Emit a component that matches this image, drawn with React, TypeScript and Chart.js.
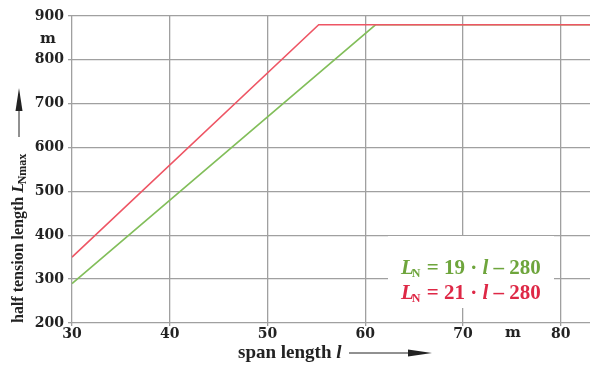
import React, { useEffect, useRef } from "react";
import { Chart, registerables } from "chart.js";
Chart.register(...registerables);

const redSpan = [30, 55.24, 83];
const redLength = [350, 880, 880];
const greenSpan = [30, 61.05, 83];
const greenLength = [290, 880, 880];
const xTickValues = [30, 40, 50, 60, 70, 80];
const yTickValues = [200, 300, 400, 500, 600, 700, 800, 900];
const greenFormula = ["19", "280"];
const redFormula = ["21", "280"];
const yTitle = "half tension length ";
const xTitle = "span length ";
const unit = "m";

const FONT = "'Liberation Serif', 'DejaVu Serif', serif";
const WIDE = "'DejaVu Serif', 'Liberation Serif', serif";
const RED_LINE = "rgb(238,85,100)";
const GREEN_LINE = "rgb(130,190,90)";
const RED_TEXT = "rgb(222,40,70)";
const GREEN_TEXT = "rgb(110,165,60)";
const TEXT = "#222";
const GRID = "rgb(160,160,160)";

function drawFormula(ctx: CanvasRenderingContext2D, x: number, y: number, parts: string[], color: string) {
  ctx.save();
  ctx.fillStyle = color;
  ctx.textBaseline = "middle";
  ctx.textAlign = "left";
  let cx = x;
  ctx.font = `italic bold 21px ${FONT}`;
  ctx.fillText("L", cx, y);
  cx += ctx.measureText("L").width;
  ctx.font = `bold 12px ${FONT}`;
  ctx.fillText("N", cx - 2, y + 5);
  cx += ctx.measureText("N").width - 1;
  ctx.font = `bold 21px ${FONT}`;
  const s1 = ` = ${parts[0]} · `;
  ctx.fillText(s1, cx, y);
  cx += ctx.measureText(s1).width;
  ctx.font = `italic bold 21px ${FONT}`;
  ctx.fillText("l", cx, y);
  cx += ctx.measureText("l").width;
  ctx.font = `bold 21px ${FONT}`;
  ctx.fillText(` – ${parts[1]}`, cx, y);
  ctx.restore();
}

const decorPlugin = {
  id: "decor",
  beforeDatasetsDraw(chart: any) {
    const { ctx } = chart;
    ctx.save();
    ctx.fillStyle = "#fff";
    ctx.fillRect(388, 236, 166, 72);
    ctx.restore();
  },
  afterDraw(chart: any) {
    const { ctx } = chart;
    const xs = chart.scales.x;
    const ys = chart.scales.y;
    drawFormula(ctx, 401, 269, greenFormula, GREEN_TEXT);
    drawFormula(ctx, 401, 294, redFormula, RED_TEXT);

    ctx.save();
    ctx.fillStyle = TEXT;
    ctx.textBaseline = "middle";
    ctx.textAlign = "center";
    ctx.font = `bold 15px ${WIDE}`;
    ctx.fillText(unit, 48, (ys.getPixelForValue(900) + ys.getPixelForValue(800)) / 2 + 1);
    ctx.fillText(unit, (xs.getPixelForValue(70) + xs.getPixelForValue(80)) / 2 + 1, 333);

    // x title
    ctx.textAlign = "left";
    ctx.font = `bold 19px ${FONT}`;
    let cx = 238;
    const ty = 353;
    ctx.fillText(xTitle, cx, ty);
    cx += ctx.measureText(xTitle).width;
    ctx.font = `italic bold 19px ${FONT}`;
    ctx.fillText("l", cx, ty);
    ctx.strokeStyle = TEXT;
    ctx.lineWidth = 1;
    ctx.beginPath();
    ctx.moveTo(349, ty);
    ctx.lineTo(410, ty);
    ctx.stroke();
    ctx.beginPath();
    ctx.moveTo(432, ty);
    ctx.lineTo(408, ty - 3.5);
    ctx.lineTo(408, ty + 3.5);
    ctx.closePath();
    ctx.fill();

    // y title (rotated)
    ctx.translate(19, 323);
    ctx.rotate(-Math.PI / 2);
    ctx.textBaseline = "middle";
    ctx.textAlign = "left";
    ctx.font = `bold 16px ${FONT}`;
    let px = 0;
    ctx.fillText(yTitle, px, 0);
    px += ctx.measureText(yTitle).width;
    ctx.font = `italic bold 17px ${FONT}`;
    ctx.fillText("L", px, 0);
    px += ctx.measureText("L").width;
    ctx.font = `bold 12px ${FONT}`;
    ctx.fillText("Nmax", px - 2, 4);
    ctx.beginPath();
    ctx.moveTo(186, 0);
    ctx.lineTo(214, 0);
    ctx.stroke();
    ctx.beginPath();
    ctx.moveTo(235, 0);
    ctx.lineTo(212, -3.5);
    ctx.lineTo(212, 3.5);
    ctx.closePath();
    ctx.fill();
    ctx.restore();
  },
};

export default function App() {
  const ref = useRef<HTMLCanvasElement>(null);
  useEffect(() => {
    document.body.style.margin = "0";
    const chart = new Chart(ref.current as HTMLCanvasElement, {
      type: "line",
      data: {
        datasets: [
          {
            label: "red",
            data: redSpan.map((x, i) => ({ x, y: redLength[i] })),
            borderColor: RED_LINE,
            borderWidth: 1.6,
            pointRadius: 0,
            fill: false,
          },
          {
            label: "green",
            data: greenSpan.map((x, i) => ({ x, y: greenLength[i] })),
            borderColor: GREEN_LINE,
            borderWidth: 1.6,
            pointRadius: 0,
            fill: false,
          },
        ],
      },
      options: {
        animation: false,
        responsive: false,
        maintainAspectRatio: false,
        layout: { padding: { top: 16, right: 0, bottom: 0, left: 0 } },
        plugins: { legend: { display: false }, tooltip: { enabled: false } },
        scales: {
          x: {
            type: "linear",
            min: 30,
            max: 83,
            afterBuildTicks: (s: any) => {
              s.ticks = xTickValues.map((v) => ({ value: v }));
            },
            afterFit: (s: any) => {
              s.height = 42;
            },
            grid: { color: GRID, lineWidth: 1.3, tickLength: 3 },
            border: { display: false },
            ticks: {
              color: TEXT,
              padding: 0,
              font: { family: WIDE, size: 14, weight: "bold" },
            },
          },
          y: {
            type: "linear",
            min: 200,
            max: 900,
            afterBuildTicks: (s: any) => {
              s.ticks = yTickValues.map((v) => ({ value: v }));
            },
            afterFit: (s: any) => {
              s.width = 72;
            },
            grid: { color: GRID, lineWidth: 1.3, tickLength: 4 },
            border: { display: false },
            ticks: {
              color: TEXT,
              padding: 4,
              font: { family: WIDE, size: 14, weight: "bold" },
            },
          },
        },
      },
      plugins: [decorPlugin],
    } as any);
    return () => chart.destroy();
  }, []);
  return (
    <div style={{ position: "absolute", left: 0, top: 0, width: 590, height: 365, background: "#fff" }}>
      <canvas ref={ref} width={590} height={365} style={{ width: 590, height: 365 }} />
    </div>
  );
}
